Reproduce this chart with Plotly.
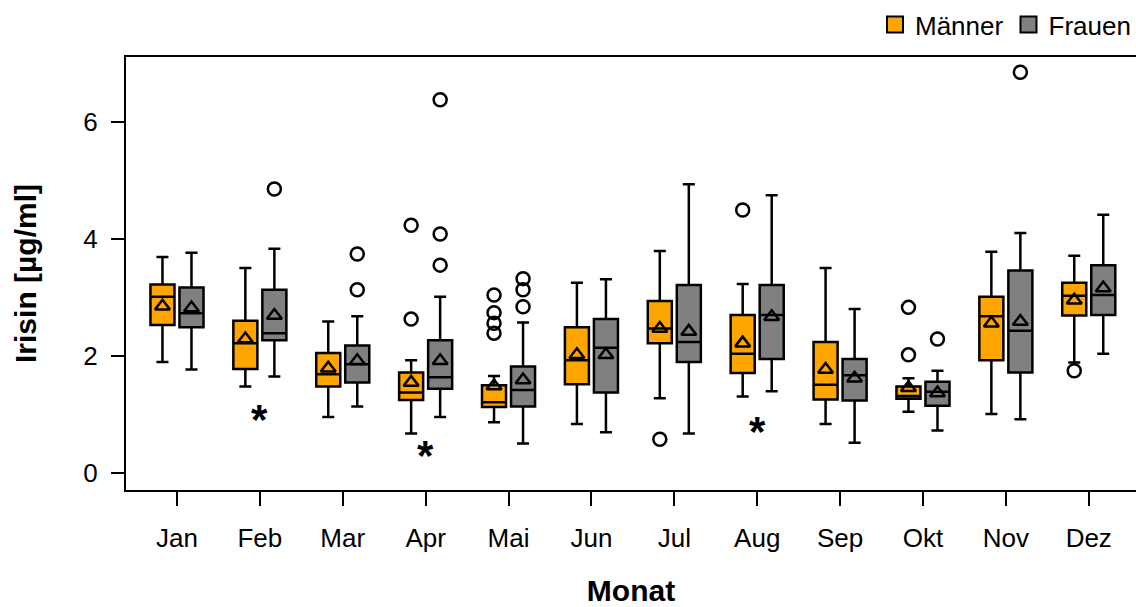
import plotly.graph_objects as go

months = ["Jan", "Feb", "Mar", "Apr", "Mai", "Jun", "Jul", "Aug", "Sep", "Okt", "Nov", "Dez"]

# Männer
m_lo   = [1.90, 1.48, 0.96, 0.68, 0.87, 0.84, 1.28, 1.31, 0.84, 1.05, 1.01, 1.89]
m_q1   = [2.53, 1.78, 1.48, 1.25, 1.13, 1.52, 2.22, 1.71, 1.26, 1.27, 1.93, 2.69]
m_med  = [3.01, 2.22, 1.69, 1.38, 1.21, 1.93, 2.47, 2.04, 1.51, 1.32, 2.68, 3.03]
m_q3   = [3.22, 2.60, 2.05, 1.72, 1.50, 2.49, 2.94, 2.70, 2.24, 1.48, 3.01, 3.25]
m_hi   = [3.69, 3.50, 2.59, 1.93, 1.66, 3.25, 3.79, 3.23, 3.50, 1.62, 3.78, 3.71]
m_mean = [2.85, 2.29, 1.79, 1.55, 1.49, 2.02, 2.47, 2.22, 1.77, 1.46, 2.56, 2.95]
m_out_month = [3, 3, 4, 4, 4, 4, 6, 7, 9, 9, 11]
m_out_val   = [4.23, 2.63, 3.04, 2.74, 2.56, 2.39, 0.58, 4.49, 2.83, 2.02, 1.75]

# Frauen
f_lo   = [1.77, 1.65, 1.14, 0.96, 0.51, 0.70, 0.68, 1.40, 0.52, 0.73, 0.92, 2.04]
f_q1   = [2.49, 2.27, 1.55, 1.44, 1.14, 1.38, 1.90, 1.95, 1.24, 1.15, 1.72, 2.70]
f_med  = [2.73, 2.39, 1.86, 1.64, 1.42, 2.14, 2.24, 2.70, 1.67, 1.39, 2.43, 3.04]
f_q3   = [3.17, 3.13, 2.18, 2.27, 1.82, 2.63, 3.21, 3.21, 1.95, 1.56, 3.46, 3.55]
f_hi   = [3.76, 3.83, 2.68, 3.01, 2.57, 3.31, 4.93, 4.74, 2.80, 1.75, 4.10, 4.41]
f_mean = [2.82, 2.69, 1.92, 1.92, 1.59, 2.02, 2.42, 2.67, 1.62, 1.37, 2.59, 3.16]
f_out_month = [1, 2, 2, 3, 3, 3, 4, 4, 4, 9, 10]
f_out_val   = [4.85, 3.74, 3.13, 6.37, 4.08, 3.55, 3.32, 3.13, 2.84, 2.29, 6.84]

# Extremwerte (*)
ext_month = [1, 3, 7]
ext_val   = [1.02, 0.41, 0.82]

ORANGE = "#FFA500"
GRAY = "#808080"
FONT = "Liberation Sans"
OFF = 0.175
BW = 0.29
LW = 2.5

fig = go.Figure()

def add_group(name, color, off, lo, q1, med, q3, hi, mean, om, ov):
    xs = [i + off for i in range(len(months))]
    fig.add_trace(go.Box(
        x=xs, lowerfence=lo, q1=q1, median=med, q3=q3, upperfence=hi,
        width=BW, whiskerwidth=0.5, fillcolor=color,
        line=dict(color="black", width=LW), boxpoints=False,
        showlegend=False, name=name, hoverinfo="skip"))
    fig.add_trace(go.Scatter(
        x=xs, y=mean, mode="markers", showlegend=False, hoverinfo="skip",
        marker=dict(symbol="triangle-up-open", size=13, color="black",
                    line=dict(color="black", width=LW))))
    fig.add_trace(go.Scatter(
        x=[m + off for m in om], y=ov, mode="markers", showlegend=False,
        hoverinfo="skip",
        marker=dict(symbol="circle-open", size=13, color="black",
                    line=dict(color="black", width=LW))))
    fig.add_trace(go.Scatter(
        x=[None], y=[None], mode="markers", name=name,
        marker=dict(symbol="square", size=16, color=color,
                    line=dict(color="black", width=2))))

add_group("Männer", ORANGE, -OFF, m_lo, m_q1, m_med, m_q3, m_hi, m_mean,
          m_out_month, m_out_val)
add_group("Frauen", GRAY, OFF, f_lo, f_q1, f_med, f_q3, f_hi, f_mean,
          f_out_month, f_out_val)

for xm, yv in zip(ext_month, ext_val):
    fig.add_annotation(x=xm, y=yv, text="<b>*</b>", showarrow=False,
                       font=dict(family=FONT, size=42, color="black"),
                       yshift=-6)

fig.update_layout(
    width=1136, height=607,
    margin=dict(l=126, r=0, t=57, b=117, autoexpand=False),
    paper_bgcolor="white", plot_bgcolor="white",
    font=dict(family=FONT, size=26, color="black"),
    boxmode="overlay",
    legend=dict(orientation="h", x=1.0, xanchor="right", y=1.075,
                yanchor="middle", font=dict(size=26), itemwidth=30,
                tracegroupgap=0, bgcolor="rgba(0,0,0,0)"),
)

fig.update_xaxes(
    range=[-0.615, 11.57], tickmode="array",
    tickvals=list(range(len(months))), ticktext=months,
    ticks="outside", ticklen=14, tickwidth=2, tickcolor="black",
    showline=True, linewidth=2, linecolor="black", mirror=True,
    showgrid=False, zeroline=False, ticklabelstandoff=10,
    title=dict(text="<b>Monat</b>", font=dict(size=30), standoff=30))
fig.update_yaxes(
    range=[-0.285, 7.10], tickvals=[0, 2, 4, 6],
    ticks="outside", ticklen=13, tickwidth=2, tickcolor="black",
    showline=True, linewidth=2, linecolor="black",
    showgrid=False, zeroline=False, ticklabelstandoff=8,
    title=dict(text="<b>Irisin [µg/ml]</b>", font=dict(size=30), standoff=38))

fig.write_html("out.html")
